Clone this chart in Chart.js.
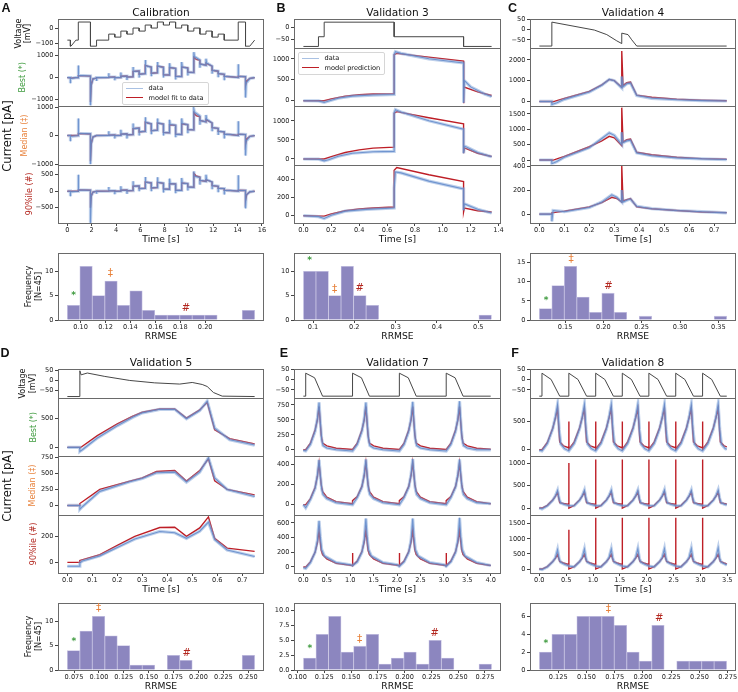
<!DOCTYPE html>
<html>
<head>
<meta charset="utf-8">
<title>Model fits and validations</title>
<script src="https://cdn.jsdelivr.net/npm/chart.js@4.4.1/dist/chart.umd.min.js"></script>
<style>
  html, body { margin:0; padding:0; background:#fff; }
  #fig { position:relative; width:738px; height:692px; overflow:hidden; font-family:"DejaVu Sans", sans-serif; color:#111; }
  #fig canvas { position:absolute; }
  .tx { position:absolute; white-space:nowrap; transform:translate(-50%,-50%); line-height:1; }
  .lg { position:absolute; background:rgba(255,255,255,0.85); border:1px solid #d6d6d6; border-radius:2px; font-size:6.6px; padding:1px 4px 1px 3px; white-space:nowrap; }
  .lg div { display:flex; align-items:center; height:9.5px; }
  .lg i { display:inline-block; width:17px; height:0; border-top:1.6px solid; margin-right:6px; }
</style>
</head>
<body>
<div id="fig"></div>
<script>
// ── data: voltage protocols [t s, V mV] ─────────────────────────────────────
const aVolt = [[0,-80],[0.25,-80],[0.25,-120],[0.3,-120],[0.7,-80],[0.9,-80],[0.9,40],[1.9,40],[1.9,-120],[2.4,-120],[2.4,-80],[3.4,-80],
  [3.4,-40],[3.9,-40],[3.9,-60],[4.4,-60],[4.4,-20],[4.9,-20],[4.9,-40],[5.4,-40],[5.4,0],[5.9,0],[5.9,-20],[6.4,-20],[6.4,20],[6.9,20],
  [6.9,0],[7.4,0],[7.4,40],[7.9,40],[7.9,20],[8.4,20],[8.4,40],[8.9,40],[8.9,0],[9.4,0],[9.4,20],[9.9,20],[9.9,-20],[10.4,-20],[10.4,0],
  [10.9,0],[10.9,-40],[11.4,-40],[11.4,-20],[11.9,-20],[11.9,-60],[12.4,-60],[12.4,-40],[12.9,-40],[12.9,-80],[14.05,-80],[14.05,40],
  [14.65,40],[14.65,-120],[15.0,-120],[15.4,-80]];
const bVolt = [[0,-80],[0.108,-80],[0.108,-40],[0.149,-40],[0.149,20],[0.651,20],[0.651,-40],[1.149,-40],[1.149,-80],[1.35,-80]];
const cVolt = [[0,-80],[0.05,-80],[0.05,35],[0.22,-3],[0.27,-25],[0.31,-55],[0.33,-68],[0.33,-18],[0.355,-25],[0.37,-50],[0.39,-80],[0.75,-80]];
const dVolt = [[0,-80],[0.05,-80],[0.05,48],[0.055,28],[0.08,37],[0.15,20],[0.25,0],[0.35,-12],[0.45,-18],[0.5,-10],[0.54,-20],
  [0.56,-30],[0.585,-60],[0.62,-78],[0.75,-80]];
const eVolt = [[0,-80],[0.05,-80],[0.05,30],[0.24,8],[0.41,-80],[1.05,-80],[1.05,30],[1.24,8],[1.41,-80],[2.05,-80],[2.05,30],[2.24,8],
  [2.41,-80],[3.05,-80],[3.05,30],[3.24,8],[3.41,-80],[4.0,-80]];
const fVolt = [[0,-80],[0.05,-80],[0.05,30],[0.22,0],[0.38,-80],[0.55,-80],[0.55,30],[0.72,0],[0.88,-80],[1.05,-80],[1.05,30],[1.22,0],
  [1.38,-80],[1.545,-80],[1.545,30],[1.715,0],[1.875,-80],[2.04,-80],[2.04,30],[2.21,0],[2.37,-80],[2.54,-80],[2.54,30],[2.71,0],
  [2.87,-80],[3.04,-80],[3.04,30],[3.21,0],[3.37,-80],[3.49,-80]];

// ── data: currents [t s, I pA] ──────────────────────────────────────────────
const aBestModel = [[0,0],[0.25,0],[0.25,-30],[0.3,-25],[0.7,0],[0.9,0],[0.9,90],[1.9,70],[1.9,-1100],[1.96,-350],[2.1,-60],[2.4,-20],[2.4,0],[3.4,5],
  [3.4,20],[3.9,25],[3.9,0],[4.4,5],[4.4,60],[4.9,70],[4.9,30],[5.4,40],[5.4,280],[5.9,300],[5.9,150],[6.4,180],[6.4,560],[6.6,520],[6.9,480],
  [6.9,200],[7.4,220],[7.4,520],[7.9,470],[7.9,130],[8.4,120],[8.4,450],[8.9,420],[8.9,60],[9.4,50],[9.4,480],[9.9,440],[9.9,250],[10.4,230],
  [10.4,920],[10.6,820],[10.9,780],[10.9,620],[11.4,560],[11.4,650],[11.9,520],[11.9,330],[12.4,290],[12.4,180],[12.9,150],[12.9,60],[13.4,40],
  [14.05,5],[14.05,60],[14.65,40],[14.65,-350],[14.75,-150],[15.0,-40],[15.4,0]];
const aBestData = [[0,0],[0.25,0],[0.25,-250],[0.26,-40],[0.7,0],[0.9,0],[0.9,550],[0.92,100],[1.9,70],[1.9,-1250],[1.96,-330],[2.1,-60],[2.4,-20],
  [2.4,-150],[2.42,0],[3.4,5],[3.4,200],[3.42,20],[3.9,25],[3.9,-120],[3.92,0],[4.4,5],[4.4,230],[4.42,60],[4.9,70],[4.9,-110],[4.92,30],[5.4,40],
  [5.4,480],[5.42,280],[5.9,300],[5.9,0],[5.92,150],[6.4,180],[6.4,800],[6.45,540],[6.9,470],[6.9,60],[6.92,200],[7.4,220],[7.4,700],[7.45,520],
  [7.9,460],[7.9,0],[7.92,130],[8.4,120],[8.4,650],[8.45,450],[8.9,410],[8.9,-80],[8.92,60],[9.4,50],[9.4,700],[9.45,480],[9.9,430],[9.9,100],
  [9.92,250],[10.4,230],[10.4,1150],[10.45,950],[10.9,790],[10.9,450],[10.92,620],[11.4,560],[11.4,850],[11.45,660],[11.9,520],[11.9,180],
  [11.92,330],[12.4,290],[12.4,20],[12.42,180],[12.9,150],[12.9,-120],[12.92,60],[13.4,40],[14.05,5],[14.05,600],[14.07,60],[14.65,40],
  [14.65,-900],[14.7,-250],[15.0,-40],[15.4,0]];
const aMedModel = [[0,0],[0.9,0],[0.9,70],[1.9,55],[1.9,-900],[1.96,-300],[2.1,-50],[2.4,0],[3.4,5],[3.4,15],[3.9,20],[3.9,0],[4.4,5],
  [4.4,50],[4.9,60],[4.9,25],[5.4,35],[5.4,240],[5.9,260],[5.9,130],[6.4,150],[6.4,470],[6.6,440],[6.9,410],[6.9,170],[7.4,190],[7.4,440],
  [7.9,400],[7.9,110],[8.4,100],[8.4,380],[8.9,360],[8.9,50],[9.4,40],[9.4,410],[9.9,380],[9.9,210],[10.4,200],[10.4,800],[10.6,700],
  [10.9,660],[10.9,530],[11.4,480],[11.4,560],[11.9,440],[11.9,280],[12.4,250],[12.4,150],[12.9,130],[12.9,50],[13.4,35],[14.05,5],
  [14.05,50],[14.65,35],[14.65,-300],[14.75,-120],[15.0,-30],[15.4,0]];
const aMedData = [[0,0],[0.25,0],[0.25,-200],[0.26,-30],[0.9,0],[0.9,600],[0.92,80],[1.9,60],[1.9,-1000],[1.96,-280],[2.1,-50],[2.4,0],
  [3.4,5],[3.4,150],[3.42,15],[3.9,20],[3.9,-100],[3.92,0],[4.4,5],[4.4,200],[4.42,50],[4.9,60],[4.9,-100],[4.92,25],[5.4,35],[5.4,420],
  [5.42,250],[5.9,260],[5.9,0],[5.92,130],[6.4,150],[6.4,640],[6.45,470],[6.9,410],[6.9,50],[6.92,170],[7.4,190],[7.4,600],[7.45,450],
  [7.9,400],[7.9,0],[7.92,110],[8.4,100],[8.4,550],[8.45,390],[8.9,360],[8.9,-60],[8.92,50],[9.4,40],[9.4,600],[9.45,420],[9.9,380],
  [9.9,80],[9.92,210],[10.4,200],[10.4,920],[10.45,820],[10.9,680],[10.9,380],[10.92,530],[11.4,480],[11.4,720],[11.45,570],[11.9,440],
  [11.9,150],[11.92,280],[12.4,250],[12.4,20],[12.42,150],[12.9,130],[12.9,-100],[12.92,50],[13.4,35],[14.05,5],[14.05,500],[14.07,50],
  [14.65,35],[14.65,-700],[14.7,-200],[15.0,-30],[15.4,0]];
const a90Model = [[0,0],[0.9,0],[0.9,40],[1.9,30],[1.9,-500],[1.96,-150],[2.1,-30],[2.4,0],[3.4,5],[3.4,10],[3.9,12],[3.9,0],[4.4,3],
  [4.4,30],[4.9,35],[4.9,15],[5.4,20],[5.4,150],[5.9,160],[5.9,80],[6.4,90],[6.4,280],[6.9,250],[6.9,100],[7.4,110],[7.4,270],[7.9,240],
  [7.9,70],[8.4,60],[8.4,230],[8.9,220],[8.9,30],[9.4,25],[9.4,250],[9.9,230],[9.9,130],[10.4,120],[10.4,540],[10.6,460],[10.9,430],
  [10.9,330],[11.4,300],[11.4,350],[11.9,280],[11.9,170],[12.4,150],[12.4,90],[12.9,80],[12.9,30],[13.4,20],[14.05,3],[14.05,30],
  [14.65,20],[14.65,-280],[14.75,-100],[15.0,-20],[15.4,0]];
const a90Data = [[0,0],[0.25,0],[0.25,-150],[0.26,-20],[0.9,0],[0.9,500],[0.92,40],[1.9,30],[1.9,-960],[1.96,-150],[2.1,-30],[2.4,0],
  [2.4,-80],[2.42,0],[3.4,5],[3.4,130],[3.42,10],[3.9,12],[3.9,-90],[3.92,0],[4.4,3],[4.4,150],[4.42,30],[4.9,35],[4.9,-80],[4.92,15],
  [5.4,20],[5.4,300],[5.42,150],[5.9,160],[5.9,0],[5.92,80],[6.4,90],[6.4,430],[6.45,280],[6.9,250],[6.9,0],[6.92,100],[7.4,110],
  [7.4,420],[7.45,270],[7.9,240],[7.9,-40],[7.92,70],[8.4,60],[8.4,380],[8.45,230],[8.9,220],[8.9,-60],[8.92,30],[9.4,25],[9.4,400],
  [9.45,250],[9.9,230],[9.9,20],[9.92,130],[10.4,120],[10.4,600],[10.45,450],[10.9,420],[10.9,200],[10.92,330],[11.4,300],[11.4,500],
  [11.45,350],[11.9,280],[11.9,60],[11.92,170],[12.4,150],[12.4,-30],[12.42,90],[12.9,80],[12.9,-100],[12.92,30],[13.4,20],[14.05,3],
  [14.05,480],[14.07,30],[14.65,20],[14.65,-520],[14.7,-120],[15.0,-20],[15.4,0]];

const bBestModel = [[0,0],[0.149,0],[0.2,45],[0.3,110],[0.4,145],[0.5,160],[0.651,170],[0.651,1100],[0.67,1130],[0.9,1040],[1.149,945],
  [1.149,-60],[1.152,330],[1.25,210],[1.35,125]];
const bBestData = [[0,0],[0.108,-5],[0.149,-40],[0.17,-20],[0.25,60],[0.35,110],[0.5,135],[0.651,150],[0.651,1100],[0.66,1170],[0.7,1130],
  [0.9,1000],[1.149,900],[1.149,-50],[1.155,480],[1.2,330],[1.3,160],[1.35,100]];
const bMedModel = [[0,0],[0.149,0],[0.2,60],[0.3,170],[0.4,240],[0.5,285],[0.651,310],[0.651,1200],[0.67,1240],[0.9,1080],[1.149,920],
  [1.149,150],[1.155,290],[1.25,150],[1.35,65]];
const bMedData = [[0,0],[0.108,-5],[0.149,-50],[0.18,-20],[0.25,70],[0.35,150],[0.5,190],[0.651,200],[0.651,1200],[0.66,1290],[0.7,1230],
  [0.9,1000],[1.149,780],[1.149,150],[1.155,340],[1.25,170],[1.35,60]];
const b90Model = [[0,0],[0.149,-5],[0.2,20],[0.3,55],[0.4,75],[0.5,85],[0.651,95],[0.651,500],[0.67,530],[0.9,450],[1.149,375],
  [1.149,40],[1.155,85],[1.25,55],[1.35,40]];
const b90Data = [[0,0],[0.108,-10],[0.149,-30],[0.2,5],[0.3,50],[0.45,70],[0.651,85],[0.651,300],[0.66,480],[0.7,470],[0.9,380],
  [1.149,295],[1.149,60],[1.155,130],[1.25,70],[1.35,30]];

const cBestModel = [[0,0],[0.05,0],[0.05,-30],[0.1,150],[0.2,480],[0.25,800],[0.28,1060],[0.3,1000],[0.33,680],[0.33,2420],[0.335,760],
  [0.35,900],[0.365,930],[0.39,300],[0.45,200],[0.55,110],[0.65,60],[0.75,35]];
const cBestData = [[0,0],[0.05,0],[0.05,-150],[0.07,-60],[0.1,100],[0.2,450],[0.25,780],[0.28,1060],[0.3,1000],[0.33,650],[0.33,1200],
  [0.335,700],[0.35,850],[0.365,880],[0.39,280],[0.45,150],[0.55,80],[0.65,40],[0.75,20]];
const cMedModel = [[0,0],[0.05,0],[0.05,-20],[0.1,120],[0.2,430],[0.25,620],[0.28,770],[0.3,720],[0.33,460],[0.33,1700],[0.335,580],
  [0.35,660],[0.365,680],[0.39,250],[0.45,170],[0.55,90],[0.65,45],[0.75,25]];
const cMedData = [[0,0],[0.05,0],[0.05,-120],[0.07,-50],[0.1,90],[0.2,400],[0.25,700],[0.28,880],[0.3,800],[0.33,500],[0.33,900],
  [0.335,560],[0.35,620],[0.365,640],[0.39,230],[0.45,140],[0.55,70],[0.65,35],[0.75,15]];
const c90Model = [[0,0],[0.05,0],[0.05,10],[0.1,25],[0.2,60],[0.25,95],[0.29,140],[0.31,130],[0.33,100],[0.33,400],[0.335,110],
  [0.35,120],[0.365,130],[0.39,60],[0.45,45],[0.55,30],[0.65,18],[0.75,12]];
const c90Data = [[0,0],[0.05,0],[0.05,-60],[0.055,30],[0.1,20],[0.2,55],[0.25,100],[0.29,160],[0.31,140],[0.33,100],[0.33,200],
  [0.335,100],[0.35,115],[0.365,125],[0.39,65],[0.45,45],[0.55,30],[0.65,20],[0.75,10]];

const dBestModel = [[0,0],[0.05,0],[0.05,-10],[0.06,20],[0.12,200],[0.2,400],[0.26,528],[0.3,600],[0.37,655],[0.43,655],[0.477,500],
  [0.53,640],[0.56,770],[0.59,300],[0.65,150],[0.75,60]];
const dBestData = [[0,0],[0.05,0],[0.05,-70],[0.06,-40],[0.12,160],[0.2,370],[0.26,510],[0.3,590],[0.37,650],[0.43,650],[0.477,490],
  [0.53,630],[0.56,790],[0.59,330],[0.65,130],[0.75,40]];
const dMedModel = [[0,0],[0.05,0],[0.05,30],[0.13,250],[0.25,380],[0.3,430],[0.357,530],[0.43,545],[0.477,380],[0.53,545],[0.565,730],
  [0.59,385],[0.64,250],[0.75,165]];
const dMedData = [[0,0],[0.05,0],[0.05,-60],[0.06,-20],[0.13,220],[0.25,370],[0.3,420],[0.357,510],[0.43,520],[0.477,365],[0.53,520],
  [0.565,745],[0.59,430],[0.64,250],[0.75,140]];
const d90Model = [[0,0],[0.05,0],[0.05,15],[0.13,60],[0.2,130],[0.27,200],[0.37,268],[0.43,270],[0.477,200],[0.53,265],[0.565,350],
  [0.59,185],[0.64,110],[0.75,85]];
const d90Data = [[0,-30],[0.05,-30],[0.05,-5],[0.06,10],[0.13,50],[0.2,115],[0.27,180],[0.37,238],[0.43,228],[0.477,185],[0.53,240],
  [0.565,310],[0.59,175],[0.64,95],[0.75,45]];

const eBestModel = [[0,0],[0.05,0],[0.15,110],[0.25,330],[0.3,500],[0.335,720],[0.38,250],[0.41,110],[0.5,65],[0.7,25],[1.05,5],
  [1.15,110],[1.25,330],[1.3,500],[1.335,720],[1.38,250],[1.41,110],[1.5,65],[1.7,25],[2.05,5],[2.15,110],[2.25,330],[2.3,500],
  [2.335,720],[2.38,250],[2.41,110],[2.5,65],[2.7,25],[3.05,5],[3.15,110],[3.25,330],[3.3,500],[3.335,720],[3.38,250],[3.41,110],
  [3.5,65],[3.7,25],[4.0,8]];
const eBestData = [[0,-10],[0.05,-20],[0.15,90],[0.25,310],[0.3,520],[0.335,790],[0.36,480],[0.39,180],[0.42,70],[0.5,30],[0.7,0],
  [1.05,-20],[1.15,90],[1.25,310],[1.3,520],[1.335,790],[1.36,480],[1.39,180],[1.42,70],[1.5,30],[1.7,0],[2.05,-20],[2.15,90],
  [2.25,310],[2.3,520],[2.335,800],[2.36,480],[2.39,180],[2.42,70],[2.5,30],[2.7,0],[3.05,-20],[3.15,90],[3.25,310],[3.3,520],
  [3.335,810],[3.36,480],[3.39,180],[3.42,70],[3.5,30],[3.7,0],[4.0,0]];
const eMedModel = [[0,0],[0.05,0],[0.15,60],[0.25,170],[0.3,280],[0.335,410],[0.38,200],[0.41,130],[0.5,75],[0.7,30],[1.05,10],
  [1.05,40],[1.15,80],[1.25,180],[1.3,285],[1.335,415],[1.38,200],[1.41,130],[1.5,75],[1.7,30],[2.05,10],[2.05,40],[2.15,80],
  [2.25,180],[2.3,285],[2.335,415],[2.38,200],[2.41,130],[2.5,75],[2.7,30],[3.05,10],[3.05,40],[3.15,80],[3.25,180],[3.3,285],
  [3.335,410],[3.38,200],[3.41,130],[3.5,75],[3.7,30],[4.0,10]];
const eMedData = [[0,0],[0.05,-30],[0.15,50],[0.25,160],[0.3,290],[0.335,440],[0.36,300],[0.39,160],[0.42,100],[0.5,60],[0.7,20],
  [1.05,0],[1.15,70],[1.25,175],[1.3,300],[1.335,445],[1.36,300],[1.39,160],[1.42,100],[1.5,60],[1.7,20],[2.05,0],[2.15,70],
  [2.25,175],[2.3,300],[2.335,450],[2.36,300],[2.39,160],[2.42,100],[2.5,60],[2.7,20],[3.05,0],[3.15,70],[3.25,175],[3.3,300],
  [3.335,445],[3.36,300],[3.39,160],[3.42,100],[3.5,60],[3.7,20],[4.0,10]];
const e90Model = [[0,0],[0.05,0],[0.15,70],[0.25,200],[0.3,330],[0.335,495],[0.38,230],[0.41,170],[0.5,110],[0.7,50],[1.05,20],
  [1.05,190],[1.055,20],[1.15,80],[1.25,210],[1.3,340],[1.335,500],[1.38,230],[1.41,170],[1.5,110],[1.7,50],[2.05,20],[2.05,190],
  [2.055,20],[2.15,80],[2.25,210],[2.3,340],[2.335,500],[2.38,230],[2.41,170],[2.5,110],[2.7,50],[3.05,20],[3.05,190],[3.055,20],
  [3.15,80],[3.25,210],[3.3,340],[3.335,500],[3.38,230],[3.41,170],[3.5,110],[3.7,50],[4.0,20]];
const e90Data = [[0,-10],[0.05,-20],[0.15,60],[0.25,200],[0.3,360],[0.335,630],[0.36,420],[0.39,240],[0.45,150],[0.7,60],[1.0,30],
  [1.05,20],[1.15,70],[1.25,200],[1.3,370],[1.335,660],[1.36,420],[1.39,240],[1.45,150],[1.7,60],[2.0,30],[2.05,10],[2.15,70],
  [2.25,200],[2.3,370],[2.335,660],[2.36,420],[2.39,240],[2.45,150],[2.7,60],[3.0,30],[3.05,10],[3.15,70],[3.25,200],[3.3,370],
  [3.335,670],[3.36,420],[3.39,240],[3.45,150],[3.7,60],[4.0,20]];

const fBestModel = [[0,0],[0.05,0],[0.15,130],[0.25,380],[0.3,560],[0.34,730],[0.38,140],[0.45,70],[0.55,35],[0.55,500],[0.552,10],
  [0.65,140],[0.75,390],[0.8,570],[0.84,730],[0.88,140],[0.95,70],[1.05,35],[1.05,500],[1.052,10],[1.15,140],[1.25,390],[1.3,570],
  [1.34,730],[1.38,140],[1.45,70],[1.545,35],[1.545,500],[1.547,10],[1.645,140],[1.745,390],[1.795,570],[1.835,730],[1.875,140],
  [1.945,70],[2.04,35],[2.04,500],[2.042,10],[2.14,140],[2.24,390],[2.29,570],[2.33,730],[2.37,140],[2.44,70],[2.54,35],[2.54,500],
  [2.542,10],[2.64,140],[2.74,390],[2.79,570],[2.83,730],[2.87,140],[2.94,70],[3.04,35],[3.04,500],[3.042,10],[3.14,140],[3.24,390],
  [3.29,570],[3.33,730],[3.37,140],[3.44,70],[3.49,50]];
const fBestData = [[0,-10],[0.05,-20],[0.15,110],[0.25,370],[0.3,580],[0.34,800],[0.37,350],[0.4,100],[0.47,20],[0.55,-20],
  [0.65,110],[0.75,370],[0.8,580],[0.84,800],[0.87,350],[0.9,100],[0.97,20],[1.05,-20],[1.15,110],[1.25,370],[1.3,580],[1.34,800],
  [1.37,350],[1.4,100],[1.47,20],[1.545,-20],[1.645,110],[1.745,370],[1.795,580],[1.835,800],[1.865,350],[1.895,100],[1.965,20],
  [2.04,-20],[2.14,110],[2.24,370],[2.29,580],[2.33,800],[2.36,350],[2.39,100],[2.46,20],[2.54,-20],[2.64,110],[2.74,370],[2.79,580],
  [2.83,800],[2.86,350],[2.89,100],[2.96,20],[3.04,-20],[3.14,110],[3.24,370],[3.29,580],[3.33,810],[3.36,350],[3.39,100],[3.46,20],[3.49,10]];
const fMedModel = [[0,0],[0.05,0],[0.15,60],[0.25,180],[0.3,260],[0.34,350],[0.38,120],[0.45,100],[0.55,80],[0.55,1000],[0.552,0],
  [0.65,60],[0.75,180],[0.8,265],[0.84,360],[0.88,120],[0.95,100],[1.05,80],[1.05,1080],[1.052,0],[1.15,60],[1.25,180],[1.3,265],
  [1.34,360],[1.38,120],[1.45,100],[1.545,80],[1.545,1080],[1.547,0],[1.645,60],[1.745,180],[1.795,265],[1.835,360],[1.875,120],
  [1.945,100],[2.04,80],[2.04,1080],[2.042,0],[2.14,60],[2.24,180],[2.29,265],[2.33,360],[2.37,120],[2.44,100],[2.54,80],[2.54,1080],
  [2.542,0],[2.64,60],[2.74,180],[2.79,265],[2.83,360],[2.87,120],[2.94,100],[3.04,80],[3.04,1080],[3.042,0],[3.14,60],[3.24,180],
  [3.29,265],[3.33,360],[3.37,120],[3.44,100],[3.49,90]];
const fMedData = [[0,0],[0.05,-20],[0.15,50],[0.25,170],[0.3,270],[0.34,390],[0.37,200],[0.4,110],[0.47,80],[0.55,50],[0.65,50],
  [0.75,170],[0.8,275],[0.84,395],[0.87,200],[0.9,110],[0.97,80],[1.05,50],[1.15,50],[1.25,170],[1.3,275],[1.34,395],[1.37,200],
  [1.4,110],[1.47,80],[1.545,50],[1.645,50],[1.745,170],[1.795,275],[1.835,395],[1.865,200],[1.895,110],[1.965,80],[2.04,50],
  [2.14,50],[2.24,170],[2.29,275],[2.33,400],[2.36,200],[2.39,110],[2.46,80],[2.54,50],[2.64,50],[2.74,170],[2.79,275],[2.83,395],
  [2.86,200],[2.89,110],[2.96,80],[3.04,50],[3.14,50],[3.24,170],[3.29,275],[3.33,400],[3.36,200],[3.39,110],[3.46,80],[3.49,70]];
const f90Model = [[0,0],[0.05,0],[0.15,80],[0.25,250],[0.3,350],[0.34,480],[0.38,250],[0.45,200],[0.55,150],[0.55,1300],[0.552,0],
  [0.65,80],[0.75,250],[0.8,360],[0.84,490],[0.88,250],[0.95,200],[1.05,150],[1.05,1700],[1.052,0],[1.15,80],[1.25,250],[1.3,360],
  [1.34,490],[1.38,250],[1.45,200],[1.545,150],[1.545,1700],[1.547,0],[1.645,80],[1.745,250],[1.795,360],[1.835,490],[1.875,250],
  [1.945,200],[2.04,150],[2.04,1700],[2.042,0],[2.14,80],[2.24,250],[2.29,360],[2.33,490],[2.37,250],[2.44,200],[2.54,150],[2.54,1700],
  [2.542,0],[2.64,80],[2.74,250],[2.79,360],[2.83,490],[2.87,250],[2.94,200],[3.04,150],[3.04,1700],[3.042,0],[3.14,80],[3.24,250],
  [3.29,360],[3.33,490],[3.37,250],[3.44,200],[3.49,170]];
const f90Data = [[0,0],[0.05,-20],[0.15,70],[0.25,240],[0.3,380],[0.34,640],[0.37,330],[0.4,220],[0.47,160],[0.55,100],[0.65,70],
  [0.75,240],[0.8,390],[0.84,660],[0.87,330],[0.9,220],[0.97,160],[1.05,100],[1.15,70],[1.25,240],[1.3,390],[1.34,660],[1.37,330],
  [1.4,220],[1.47,160],[1.545,100],[1.645,70],[1.745,240],[1.795,390],[1.835,670],[1.865,330],[1.895,220],[1.965,160],[2.04,100],
  [2.14,70],[2.24,240],[2.29,390],[2.33,670],[2.36,330],[2.39,220],[2.46,160],[2.54,100],[2.64,70],[2.74,240],[2.79,390],[2.83,680],
  [2.86,330],[2.89,220],[2.96,160],[3.04,100],[3.14,70],[3.24,240],[3.29,390],[3.33,700],[3.36,330],[3.39,220],[3.46,160],[3.49,130]];

// ── data: RRMSE histograms (N=45), equal bins between the two edges ────────
const aBinEdges = [0.0894, 0.2397];
const aCounts = [3, 11, 5, 8, 3, 6, 2, 1, 1, 1, 1, 1, 0, 0, 2];
const bBinEdges = [0.0768, 0.532];
const bCounts = [10, 10, 5, 11, 5, 3, 0, 0, 0, 0, 0, 0, 0, 0, 1];
const cBinEdges = [0.1165, 0.3608];
const cCounts = [3, 9, 14, 6, 2, 7, 2, 0, 1, 0, 0, 0, 0, 0, 1];
const dBinEdges = [0.0683, 0.2564];
const dCounts = [4, 8, 11, 7, 5, 1, 1, 0, 3, 2, 0, 0, 0, 0, 3];
const eBinEdges = [0.1056, 0.2812];
const eCounts = [2, 6, 9, 3, 4, 6, 1, 2, 3, 1, 5, 2, 0, 0, 1];
const fBinEdges = [0.1083, 0.2741];
const fCounts = [2, 4, 4, 6, 6, 6, 5, 2, 1, 5, 0, 1, 1, 1, 1];
// markers [RRMSE, height] for best (*), median (‡) and 90%ile (#)
const aMarks = [[0.0944, 5.0], [0.124, 9.5], [0.1846, 2.3]];
const bMarks = [[0.092, 12.2], [0.1526, 6.3], [0.213, 6.5]];
const cMarks = [[0.1252, 5.1], [0.158, 15.9], [0.2065, 8.8]];
const dMarks = [[0.0747, 5.9], [0.0997, 12.6], [0.1882, 3.5]];
const eMarks = [[0.1115, 3.5], [0.158, 5.1], [0.228, 6.2]];
const fMarks = [[0.1141, 3.0], [0.1694, 6.8], [0.2144, 5.8]];

// ── tick values ────────────────────────────────────────────────────────────
const aTimeTicks = [0, 2, 4, 6, 8, 10, 12, 14, 16];
const bTimeTicks = [0, 0.2, 0.4, 0.6, 0.8, 1.0, 1.2, 1.4];
const cdTimeTicks = [0, 0.1, 0.2, 0.3, 0.4, 0.5, 0.6, 0.7];
const eTimeTicks = [0, 0.5, 1, 1.5, 2, 2.5, 3, 3.5, 4];
const fTimeTicks = [0, 0.5, 1, 1.5, 2, 2.5, 3, 3.5];
const aHistTicks = [0.10, 0.12, 0.14, 0.16, 0.18, 0.20];
const bHistTicks = [0.1, 0.2, 0.3, 0.4, 0.5];
const cHistTicks = [0.15, 0.20, 0.25, 0.30, 0.35];
const dHistTicks = [0.075, 0.1, 0.125, 0.15, 0.175, 0.2, 0.225, 0.25];
const eHistTicks = [0.1, 0.125, 0.15, 0.175, 0.2, 0.225, 0.25, 0.275];
const fHistTicks = [0.125, 0.15, 0.175, 0.2, 0.225, 0.25, 0.275];

// ── styling ────────────────────────────────────────────────────────────────
const SPINE = '#6a6a6a', RED = '#be1e26', VOLT = '#474747';
const HALO = 'rgba(125,162,216,0.5)', BLUE = 'rgba(70,115,190,0.85)';
const GREEN = '#3f9b3f', ORANGE = '#e8823c', DRED = '#b3261e';
const PURPLE = '#8c86bf', PURPLE_EDGE = '#c6c2e2';

Chart.defaults.font.family = "'DejaVu Sans', sans-serif";
Chart.defaults.color = '#222';

const fig = document.getElementById('fig');
const pts = a => a.map(p => ({x: p[0], y: p[1]}));
const fmt = d => v => (v < 0 ? '−' : '') + Math.abs(v).toFixed(d);

// clip each dataset to its own stacked axis, draw the axes boxes and markers
const framePlugin = {
  id: 'frame',
  beforeDatasetDraw(chart, args) {
    const a = chart.chartArea, y = args.meta.yScale, c = chart.ctx;
    c.save(); c.beginPath(); c.rect(a.left, y.top, a.right - a.left, y.bottom - y.top); c.clip();
  },
  afterDatasetDraw(chart) { chart.ctx.restore(); },
  afterDraw(chart, args, opts) {
    const a = chart.chartArea, c = chart.ctx;
    c.save();
    c.strokeStyle = SPINE; c.lineWidth = 1;
    const l = Math.round(a.left), r = Math.round(a.right);
    for (const s of Object.values(chart.scales)) {
      if (s.axis !== 'y') continue;
      const t = Math.round(s.top), b = Math.round(s.bottom);
      c.strokeRect(l + 0.5, t + 0.5, r - l - 1, b - t);
    }
    (opts.marks || []).forEach(m => {
      c.fillStyle = m.c; c.font = m.f; c.textAlign = 'center'; c.textBaseline = 'middle';
      c.fillText(m.g, chart.scales.x.getPixelForValue(m.x), chart.scales.y.getPixelForValue(m.y));
    });
    c.restore();
  }
};

function addCanvas(left, top, w, h) {
  const cv = document.createElement('canvas');
  cv.width = w; cv.height = h;
  cv.style.left = left + 'px'; cv.style.top = top + 'px';
  cv.style.width = w + 'px'; cv.style.height = h + 'px';
  fig.appendChild(cv);
  return cv.getContext('2d');
}

function label(text, x, y, css) {
  const d = document.createElement('div');
  d.className = 'tx'; d.textContent = text;
  d.style.left = x + 'px'; d.style.top = y + 'px';
  Object.assign(d.style, css || {});
  fig.appendChild(d);
}

const baseOpts = {
  responsive: false, animation: false, devicePixelRatio: 1, events: [],
  elements: { point: { radius: 0 }, line: { tension: 0 } },
};

function axisCommon(ticks, f) {
  return {
    afterBuildTicks: s => { s.ticks = ticks.map(v => ({value: v})); },
    ticks: { callback: f, font: { size: 6.6 }, color: '#222', autoSkip: false, maxRotation: 0 },
    grid: { drawOnChartArea: false, drawTicks: true, tickLength: 3, tickColor: '#444', offset: false },
    border: { display: false },
  };
}

function yAxis(r, weight, padL) {
  const ax = axisCommon(r.ticks, fmt(r.dec || 0));
  ax.ticks.padding = 1.5;
  return Object.assign(ax, {
    type: 'linear', position: 'left', stack: 'p', stackWeight: r.h, weight,
    min: r.min, max: r.max, offset: false,
    afterFit: s => { s.width = padL; s.paddingTop = 0; s.paddingBottom = 0; },
    title: r.title ? { display: true, text: r.title, color: r.tc || '#111', font: { size: 8 }, padding: { top: r.tp, bottom: 0 } }
                   : { display: false },
  });
}

function line(data, yid, color, w) {
  return { data: pts(data), yAxisID: yid, borderColor: color, borderWidth: w, pointRadius: 0, fill: false };
}

function makeTraces(L, T, W, xr, rows) {
  const padL = 58, padT = 10, padR = 14, hx = 25;
  const ctx = addCanvas(L - padL, T - padT, padL + W + padR, padT + 204 + hx);
  const x = Object.assign(axisCommon(xr.ticks, fmt(xr.dec)), {
    type: 'linear', position: 'bottom', min: xr.min, max: xr.max, offset: false,
    afterFit: s => { s.height = hx; s.paddingLeft = 0; s.paddingRight = 0; },
    title: { display: true, text: 'Time [s]', color: '#111', font: { size: 9.2 }, padding: { top: 0, bottom: 2.5 } },
  });
  x.ticks.padding = 0.5;
  const scales = { x };
  const datasets = [];
  rows.forEach((r, i) => {
    const id = 'y' + i;
    scales[id] = yAxis(r, rows.length - i, padL);
    if (r.volt) datasets.push(line(r.volt, id, VOLT, 1));
    if (r.data) { datasets.push(line(r.data, id, HALO, 3.2)); datasets.push(line(r.data, id, BLUE, 1.1)); }
    if (r.model) datasets.push(line(r.model, id, RED, 1.4));
  });
  new Chart(ctx, {
    type: 'line', data: { datasets },
    options: Object.assign({}, baseOpts, {
      layout: { padding: { top: padT, right: padR, left: 0, bottom: 0 } },
      plugins: { legend: { display: false }, tooltip: { enabled: false }, frame: {} },
      scales,
    }),
    plugins: [framePlugin],
  });
}

function makeHist(L, T, W, xr, yr, edges, counts, marks, ytitle) {
  const padL = 58, padT = 10, padR = 16, hx = 24, H = 67;
  const ctx = addCanvas(L - padL, T - padT, padL + W + padR, padT + H + hx);
  const bw = (edges[1] - edges[0]) / counts.length;
  const bars = counts.map((c, i) => ({ x: edges[0] + (i + 0.5) * bw, y: c }));
  const x = Object.assign(axisCommon(xr.ticks, fmt(xr.dec)), {
    type: 'linear', position: 'bottom', min: xr.min, max: xr.max, offset: false,
    afterFit: s => { s.height = hx; s.paddingLeft = 0; s.paddingRight = 0; },
    title: { display: true, text: 'RRMSE', color: '#111', font: { size: 9.2 }, padding: { top: 0, bottom: 1.5 } },
  });
  x.ticks.padding = 0.5;
  const y = Object.assign(axisCommon(yr.ticks, fmt(yr.dec)), {
    type: 'linear', position: 'left', min: 0, max: yr.max,
    afterFit: s => { s.width = padL; s.paddingTop = 0; s.paddingBottom = 0; },
    title: ytitle ? { display: true, text: ['Frequency', '[N=45]'], color: '#111', font: { size: 8 }, padding: { top: 24.5, bottom: 0 } }
                  : { display: false },
  });
  y.ticks.padding = 1.5;
  const glyphs = [['*', GREEN, "bold 9px 'DejaVu Sans'"], ['‡', ORANGE, "10.5px 'DejaVu Sans'"], ['#', DRED, "10px 'DejaVu Sans'"]];
  new Chart(ctx, {
    type: 'bar',
    data: { datasets: [{ data: bars, backgroundColor: PURPLE, borderColor: PURPLE_EDGE,
      borderWidth: { top: 0.8, left: 0.8, right: 0.8, bottom: 0 }, barPercentage: 1, categoryPercentage: 1 }] },
    options: Object.assign({}, baseOpts, {
      layout: { padding: { top: padT, right: padR, left: 0, bottom: 0 } },
      plugins: { legend: { display: false }, tooltip: { enabled: false },
        frame: { marks: marks.map((m, i) => ({ x: m[0], y: m[1], g: glyphs[i][0], c: glyphs[i][1], f: glyphs[i][2] })) } },
      scales: { x, y },
    }),
    plugins: [framePlugin],
  });
}

// ── panels ─────────────────────────────────────────────────────────────────
const colL = [58, 294, 530], colW = [206, 207, 206], rowT = [19, 369], histT = [253, 603];

makeTraces(colL[0], rowT[0], colW[0], { min: -0.77, max: 16.17, ticks: aTimeTicks, dec: 0 }, [
  { h: 0.5, min: -133, max: 60, ticks: [-100, 0], volt: aVolt, title: ['Voltage', '[mV]'], tp: 13.8 },
  { h: 1, min: -1300, max: 1330, ticks: [-1000, 0, 1000], data: aBestData, model: aBestModel, title: 'Best (*)', tc: GREEN, tp: 18.5 },
  { h: 1, min: -1020, max: 1020, ticks: [-1000, 0, 1000], data: aMedData, model: aMedModel, title: 'Median (‡)', tc: ORANGE, tp: 20.2 },
  { h: 1, min: -964, max: 803, ticks: [-500, 0, 500], data: a90Data, model: a90Model, title: '90%ile (#)', tc: DRED, tp: 25.2 },
]);
makeTraces(colL[1], rowT[0], colW[1], { min: -0.0675, max: 1.4175, ticks: bTimeTicks, dec: 1 }, [
  { h: 0.5, min: -87, max: 33, ticks: [-50, 0], volt: bVolt },
  { h: 1, min: -136, max: 1255, ticks: [0, 500, 1000], data: bBestData, model: bBestModel },
  { h: 1, min: -150, max: 1376, ticks: [0, 500, 1000], data: bMedData, model: bMedModel },
  { h: 1, min: -80, max: 560, ticks: [0, 200, 400], data: b90Data, model: b90Model },
]);
makeTraces(colL[2], rowT[0], colW[2], { min: -0.0375, max: 0.7875, ticks: cdTimeTicks, dec: 1 }, [
  { h: 0.5, min: -90, max: 50, ticks: [-50, 0, 50], volt: cVolt },
  { h: 1, min: -240, max: 2562, ticks: [0, 1000, 2000], data: cBestData, model: cBestModel },
  { h: 1, min: -153, max: 1739, ticks: [0, 500, 1000, 1500], data: cMedData, model: cMedModel },
  { h: 1, min: -74, max: 411, ticks: [0, 200, 400], data: c90Data, model: c90Model },
]);
makeTraces(colL[0], rowT[1], colW[0], { min: -0.0375, max: 0.7875, ticks: cdTimeTicks, dec: 1 }, [
  { h: 0.5, min: -88, max: 57, ticks: [-50, 0, 50], volt: dVolt, title: ['Voltage', '[mV]'], tp: 18.2 },
  { h: 1, min: -154, max: 841, ticks: [0, 500], data: dBestData, model: dBestModel, title: 'Best (*)', tc: GREEN, tp: 28.7 },
  { h: 1, min: -145, max: 766, ticks: [0, 250, 500, 750], data: dMedData, model: dMedModel, title: 'Median (‡)', tc: ORANGE, tp: 28.2 },
  { h: 1, min: -82, max: 367, ticks: [0, 200], data: d90Data, model: d90Model, title: '90%ile (#)', tc: DRED, tp: 28.7 },
]);
makeTraces(colL[1], rowT[1], colW[1], { min: -0.2, max: 4.22, ticks: eTimeTicks, dec: 1 }, [
  { h: 0.5, min: -89.5, max: 50, ticks: [-50, 0, 50], volt: eVolt },
  { h: 1, min: -111, max: 862, ticks: [0, 250, 500, 750], data: eBestData, model: eBestModel },
  { h: 1, min: -98.5, max: 475, ticks: [0, 200, 400], data: eMedData, model: eMedModel },
  { h: 1, min: -82, max: 713, ticks: [0, 200, 400, 600], data: e90Data, model: e90Model },
]);
makeTraces(colL[2], rowT[1], colW[2], { min: -0.173, max: 3.662, ticks: fTimeTicks, dec: 1 }, [
  { h: 0.5, min: -89.5, max: 50, ticks: [-50, 0, 50], volt: fVolt },
  { h: 1, min: -118, max: 913, ticks: [0, 500], data: fBestData, model: fBestModel },
  { h: 1, min: -149, max: 1147, ticks: [0, 500, 1000], data: fMedData, model: fMedModel },
  { h: 1, min: -132, max: 1798, ticks: [0, 500, 1000, 1500], data: f90Data, model: f90Model },
]);

makeHist(colL[0], histT[0], colW[0], { min: 0.0819, max: 0.2472, ticks: aHistTicks, dec: 2 }, { max: 13.75, ticks: [0, 5, 10], dec: 0 }, aBinEdges, aCounts, aMarks, true);
makeHist(colL[1], histT[0], colW[1], { min: 0.054, max: 0.555, ticks: bHistTicks, dec: 1 }, { max: 13.75, ticks: [0, 5, 10], dec: 0 }, bBinEdges, bCounts, bMarks, false);
makeHist(colL[2], histT[0], colW[2], { min: 0.1043, max: 0.373, ticks: cHistTicks, dec: 2 }, { max: 17.5, ticks: [0, 5, 10, 15], dec: 0 }, cBinEdges, cCounts, cMarks, false);
makeHist(colL[0], histT[1], colW[0], { min: 0.0589, max: 0.2658, ticks: dHistTicks, dec: 3 }, { max: 13.75, ticks: [0, 5, 10], dec: 0 }, dBinEdges, dCounts, dMarks, true);
makeHist(colL[1], histT[1], colW[1], { min: 0.0968, max: 0.290, ticks: eHistTicks, dec: 3 }, { max: 11.25, ticks: [0, 2.5, 5, 7.5, 10], dec: 1 }, eBinEdges, eCounts, eMarks, false);
makeHist(colL[2], histT[1], colW[2], { min: 0.1, max: 0.2824, ticks: fHistTicks, dec: 3 }, { max: 7.5, ticks: [0, 2, 4, 6], dec: 0 }, fBinEdges, fCounts, fMarks, false);

// ── titles, panel letters, shared labels, legends ──────────────────────────
const titles = ['Calibration', 'Validation 3', 'Validation 4', 'Validation 5', 'Validation 7', 'Validation 8'];
const letters = ['A', 'B', 'C', 'D', 'E', 'F'];
const letterPos = [[6, 8], [281, 8], [512.5, 8], [5, 353], [284, 353], [515, 353]];
titles.forEach((t, i) => {
  const c = i % 3, r = Math.floor(i / 3);
  label(t, colL[c] + colW[c] / 2, r ? 362 : 12, { fontSize: '10.6px' });
  label(letters[i], letterPos[i][0], letterPos[i][1], { fontSize: '12.5px', fontWeight: 'bold', fontFamily: "'Liberation Sans', sans-serif" });
});
[136, 486].forEach(y => label('Current [pA]', 7.5, y, { fontSize: '11.6px', transform: 'translate(-50%,-50%) rotate(-90deg)' }));

function legend(x, y, rows) {
  const d = document.createElement('div');
  d.className = 'lg';
  d.style.left = x + 'px'; d.style.top = y + 'px';
  d.innerHTML = rows.map(r => `<div><i style="border-color:${r[1]}"></i>${r[0]}</div>`).join('');
  fig.appendChild(d);
}
legend(121.5, 81.5, [['data', '#a9c1e3'], ['model fit to data', RED]]);
legend(297.5, 51.5, [['data', '#a9c1e3'], ['model prediction', RED]]);
</script>
</body>
</html>
